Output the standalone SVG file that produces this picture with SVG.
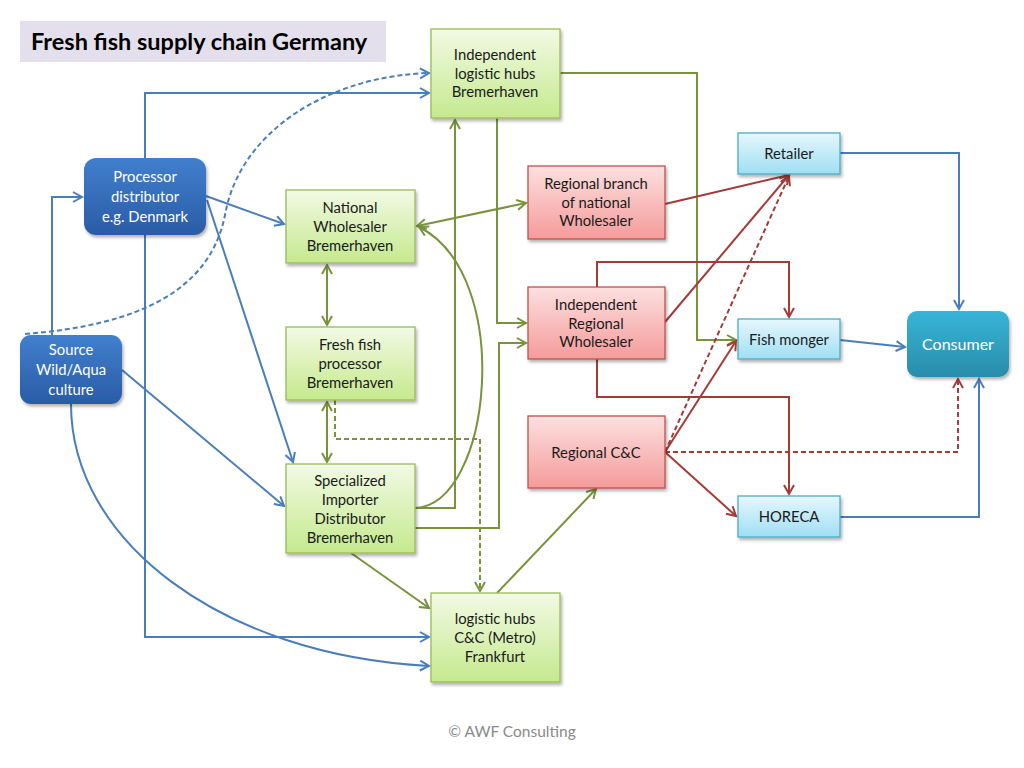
<svg xmlns="http://www.w3.org/2000/svg" width="1024" height="768" viewBox="0 0 1024 768">
<style>
text{font-family:Lato,"Open Sans","Liberation Sans",sans-serif;font-size:14.8px;text-anchor:middle;fill:#1a1a1a}
.w{fill:#fff}
.g{fill:url(#gg);stroke:#9bbb59;stroke-width:1.3}
.r{fill:url(#gr);stroke:#c0504d;stroke-width:1.3}
.c{fill:url(#gc);stroke:#4bacc6;stroke-width:1.3}
.b{fill:url(#gb)}
.t{fill:url(#gt)}
.sh{filter:url(#shadow)}
.lb{fill:none;stroke:#4a7ebb;stroke-width:2}
.lg{fill:none;stroke:#77933c;stroke-width:2}
.lr{fill:none;stroke:#a33b37;stroke-width:2}
.d{stroke-dasharray:5,3}
</style>
<defs>
<linearGradient id="gg" x1="0" y1="0" x2="0" y2="1"><stop offset="0" stop-color="#f2fae4"/><stop offset="1" stop-color="#c5e98e"/></linearGradient>
<linearGradient id="gr" x1="0" y1="0" x2="0" y2="1"><stop offset="0" stop-color="#fde0e0"/><stop offset="1" stop-color="#f49b9a"/></linearGradient>
<linearGradient id="gc" x1="0" y1="0" x2="0" y2="1"><stop offset="0" stop-color="#e6f7fd"/><stop offset="1" stop-color="#9fdff3"/></linearGradient>
<linearGradient id="gb" x1="0" y1="0" x2="0" y2="1"><stop offset="0" stop-color="#417fcd"/><stop offset="1" stop-color="#2a5ca6"/></linearGradient>
<linearGradient id="gt" x1="0" y1="0" x2="0" y2="1"><stop offset="0" stop-color="#37b5d6"/><stop offset="1" stop-color="#2a8cab"/></linearGradient>
<filter id="shadow" x="-10%" y="-10%" width="130%" height="140%"><feDropShadow dx="1.5" dy="2.5" stdDeviation="1.5" flood-color="#000" flood-opacity="0.3"/></filter>
<marker id="ab" markerUnits="userSpaceOnUse" markerWidth="14" markerHeight="14" refX="10" refY="6" orient="auto-start-reverse"><path d="M1,1 L10,6 L1,11" fill="none" stroke="#4a7ebb" stroke-width="2"/></marker>
<marker id="ag" markerUnits="userSpaceOnUse" markerWidth="14" markerHeight="14" refX="10" refY="6" orient="auto-start-reverse"><path d="M1,1 L10,6 L1,11" fill="none" stroke="#77933c" stroke-width="2"/></marker>
<marker id="ar" markerUnits="userSpaceOnUse" markerWidth="14" markerHeight="14" refX="10" refY="6" orient="auto-start-reverse"><path d="M1,1 L10,6 L1,11" fill="none" stroke="#a33b37" stroke-width="2"/></marker>
</defs>
<rect width="1024" height="768" fill="#fff"/>
<g id="title">
<rect x="20" y="21" width="366" height="41" fill="#e4dfec"/>
<text x="31" y="50" style="font-size:23.5px;font-weight:bold;text-anchor:start;fill:#000">Fresh fish supply chain Germany</text>
</g>
<g id="connectors">
<path class="lb" d="M52,335 V197 H82" marker-end="url(#ab)"/>
<path class="lb d" d="M25,334 C140,325 210,290 225,215 C240,130 330,76 429,73" marker-end="url(#ab)"/>
<path class="lb" d="M145,158 V93 H429" marker-end="url(#ab)"/>
<path class="lb" d="M206,196 L284,224" marker-end="url(#ab)"/>
<path class="lb" d="M207,200 L293,462" marker-end="url(#ab)"/>
<path class="lb" d="M145,235 V637 H429" marker-end="url(#ab)"/>
<path class="lb" d="M122,370 L284,506" marker-end="url(#ab)"/>
<path class="lb" d="M71,404 C71,540 220,655 429,666" marker-end="url(#ab)"/>
<path class="lg" d="M327,265 V325" marker-start="url(#ag)" marker-end="url(#ag)"/>
<path class="lg" d="M327,402 V462" marker-start="url(#ag)" marker-end="url(#ag)"/>
<path class="lg d" d="M335,400 V439 H480 V591" marker-end="url(#ag)"/>
<path class="lg" d="M415,508 H455 V120" marker-end="url(#ag)"/>
<path class="lg" d="M415,528 H499 V343 H526" marker-end="url(#ag)"/>
<path class="lg" d="M497,118 V323 H526" marker-end="url(#ag)"/>
<path class="lg" d="M560,73 H697 V340 H736" marker-end="url(#ag)"/>
<path class="lg" d="M417,226 L526,203" marker-start="url(#ag)" marker-end="url(#ag)"/>
<path class="lg" d="M415,508 C492,505 515,275 419,227" marker-end="url(#ag)"/>
<path class="lg" d="M351,553 L429,608" marker-end="url(#ag)"/>
<path class="lg" d="M497,593 L596,489" marker-end="url(#ag)"/>
<path class="lr" d="M665,204 L789,175" marker-end="url(#ar)"/>
<path class="lr" d="M665,322 L789,175" marker-end="url(#ar)"/>
<path class="lr" d="M597,287 V262 H789 V317" marker-end="url(#ar)"/>
<path class="lr" d="M597,359 V397 H789 V494" marker-end="url(#ar)"/>
<path class="lr d" d="M665,452 L789,176" marker-end="url(#ar)"/>
<path class="lr" d="M665,452 L736,341" marker-end="url(#ar)"/>
<path class="lr" d="M665,452 L736,516" marker-end="url(#ar)"/>
<path class="lr d" d="M665,452 H958 V379" marker-end="url(#ar)"/>
<path class="lb" d="M840,153 H959 V309" marker-end="url(#ab)"/>
<path class="lb" d="M840,340 L905,347" marker-end="url(#ab)"/>
<path class="lb" d="M840,517 H979 V379" marker-end="url(#ab)"/>
</g>
<g id="processor">
<rect class="b sh" x="84" y="158" width="122" height="77" rx="12"/>
<text class="w" x="145" y="182">Processor</text>
<text class="w" x="145" y="202">distributor</text>
<text class="w" x="145" y="222">e.g. Denmark</text>
</g>
<g id="source">
<rect class="b sh" x="20" y="335" width="102" height="69" rx="11"/>
<text class="w" x="71" y="355">Source</text>
<text class="w" x="71" y="375">Wild/Aqua</text>
<text class="w" x="71" y="395">culture</text>
</g>
<g id="indep-hubs">
<rect class="g sh" x="431" y="29" width="129" height="89"/>
<text x="495" y="60">Independent</text>
<text x="495" y="79">logistic hubs</text>
<text x="495" y="97">Bremerhaven</text>
</g>
<g id="national-wholesaler">
<rect class="g sh" x="286" y="190" width="129" height="73"/>
<text x="350" y="213">National</text>
<text x="350" y="232">Wholesaler</text>
<text x="350" y="251">Bremerhaven</text>
</g>
<g id="fresh-processor">
<rect class="g sh" x="286" y="327" width="129" height="73"/>
<text x="350" y="350">Fresh fish</text>
<text x="350" y="369">processor</text>
<text x="350" y="388">Bremerhaven</text>
</g>
<g id="specialized-importer">
<rect class="g sh" x="286" y="464" width="129" height="89"/>
<text x="350" y="486">Specialized</text>
<text x="350" y="505">Importer</text>
<text x="350" y="524">Distributor</text>
<text x="350" y="543">Bremerhaven</text>
</g>
<g id="cc-frankfurt">
<rect class="g sh" x="431" y="593" width="129" height="89"/>
<text x="495" y="624">logistic hubs</text>
<text x="495" y="643">C&amp;C (Metro)</text>
<text x="495" y="662">Frankfurt</text>
</g>
<g id="regional-branch">
<rect class="r sh" x="528" y="166" width="137" height="73"/>
<text x="596" y="189">Regional branch</text>
<text x="596" y="208">of national</text>
<text x="596" y="226">Wholesaler</text>
</g>
<g id="indep-regional">
<rect class="r sh" x="528" y="287" width="137" height="72"/>
<text x="596" y="310">Independent</text>
<text x="596" y="329">Regional</text>
<text x="596" y="347">Wholesaler</text>
</g>
<g id="regional-cc">
<rect class="r sh" x="528" y="416" width="137" height="72"/>
<text x="596" y="458">Regional C&amp;C</text>
</g>
<g id="retailer">
<rect class="c sh" x="738" y="133" width="102" height="41"/>
<text x="789" y="159">Retailer</text>
</g>
<g id="fishmonger">
<rect class="c sh" x="738" y="319" width="102" height="40"/>
<text x="789" y="345">Fish monger</text>
</g>
<g id="horeca">
<rect class="c sh" x="738" y="496" width="102" height="41"/>
<text x="789" y="522">HORECA</text>
</g>
<g id="consumer">
<rect class="t sh" x="907" y="311" width="102" height="66" rx="10"/>
<text class="w" x="958" y="350" style="font-size:16px">Consumer</text>
</g>
<text x="512" y="737" style="fill:#8a8a8a;font-size:15.5px">© AWF Consulting</text>
</svg>
